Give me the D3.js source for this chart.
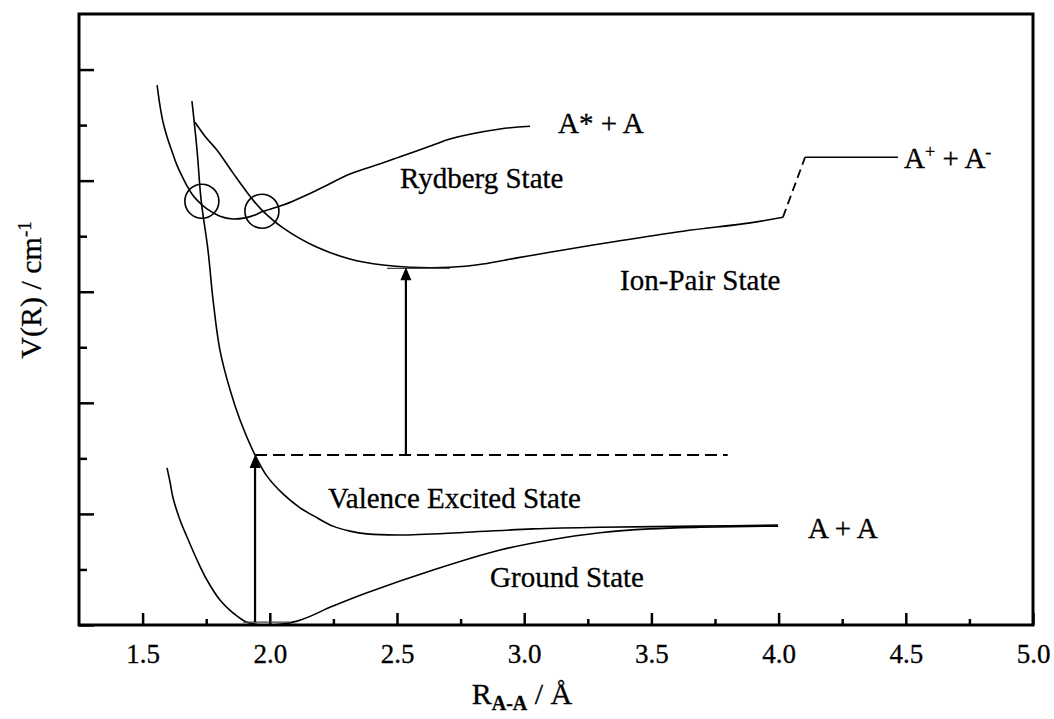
<!DOCTYPE html>
<html>
<head>
<meta charset="utf-8">
<script src="https://cdn.jsdelivr.net/npm/d3@7"></script>
<style>
  html, body { margin: 0; padding: 0; background: #fff; }
  svg { display: block; }
  text { font-family: "Liberation Serif", "Times New Roman", serif; fill: #000; stroke: #000; stroke-width: 0.3px; }
</style>
</head>
<body>
<svg id="chart" width="1054" height="719"></svg>
<script>
// Potential energy curves V(R) against internuclear distance R (Å); energy in units of 1000 cm-1.
const groundState = [
  [1.596, 2.83], [1.608, 2.57], [1.619, 2.30], [1.647, 1.89], [1.675, 1.58],
  [1.714, 1.17], [1.753, 0.81], [1.804, 0.45], [1.855, 0.22], [1.910, 0.05],
  [1.981, 0.00], [2.107, 0.07], [2.248, 0.34], [2.382, 0.58], [2.642, 0.99],
  [2.905, 1.35], [3.101, 1.53], [3.298, 1.66], [3.494, 1.73], [3.691, 1.76],
  [3.998, 1.78]
];
const valenceState = [
  [1.694, 9.43], [1.714, 8.55], [1.730, 7.65], [1.757, 6.75], [1.777, 5.85],
  [1.804, 4.95], [1.844, 4.23], [1.883, 3.69], [1.942, 3.06], [1.989, 2.68],
  [2.052, 2.36], [2.119, 2.11], [2.186, 1.93], [2.248, 1.78], [2.315, 1.69],
  [2.382, 1.64], [2.512, 1.62], [2.775, 1.67], [3.035, 1.73], [3.298, 1.76],
  [3.691, 1.78], [3.998, 1.80]
];
const rydbergState = [
  [1.557, 9.72], [1.568, 9.36], [1.580, 9.06], [1.596, 8.79], [1.616, 8.52],
  [1.635, 8.28], [1.655, 8.08], [1.675, 7.90], [1.694, 7.76], [1.714, 7.65],
  [1.753, 7.49], [1.804, 7.36], [1.855, 7.31], [1.903, 7.33], [1.942, 7.38],
  [1.969, 7.44], [2.052, 7.56], [2.186, 7.83], [2.315, 8.12], [2.445, 8.32],
  [2.512, 8.43], [2.642, 8.64], [2.708, 8.75], [2.905, 8.93], [3.023, 8.98]
];
const ionPairState = [
  [1.706, 9.05], [1.745, 8.80], [1.792, 8.55], [1.855, 8.14], [1.934, 7.65],
  [1.969, 7.47], [2.052, 7.15], [2.186, 6.80], [2.315, 6.59], [2.445, 6.48],
  [2.551, 6.44], [2.708, 6.44], [2.838, 6.50], [2.972, 6.61], [3.101, 6.71],
  [3.365, 6.91], [3.624, 7.09], [3.888, 7.24], [4.017, 7.34]
];
// ion-pair asymptote: dashed jump then the A+ + A- limit
const ionPairJump = [[4.017, 7.34], [4.104, 8.42]];
const ionPairLimit = [[4.104, 8.42], [4.469, 8.42]];

// lowest vibrational levels
const groundLevel = [[1.895, 0.05], [2.079, 0.05]];
const ionPairLevel = [[2.461, 6.42], [2.708, 6.42]];

// curve crossings marked with circles
const crossings = [[1.733, 7.63], [1.969, 7.45]];

// excitation scheme: ground -> valence (vertical), virtual level, then -> ion-pair
const dashedLevel = [[1.942, 3.06], [3.80, 3.06]];
const transitions = [
  { x: 1.942, from: 0.05, to: 3.06 },
  { x: 2.535, from: 3.06, to: 6.44 }
];

// axis ticks (no value labels on the energy axis)
const xMajorTicks = [1.5, 2.0, 2.5, 3.0, 3.5, 4.0, 4.5, 5.0];
const xMinorTicks = [1.75, 2.25, 2.75, 3.25, 3.75, 4.25, 4.75];
const yMajorTicks = [0, 2, 4, 6, 8, 10];
const yMinorTicks = [1, 3, 5, 7, 9];

// state labels, anchored at their data-space positions (start of baseline)
const stateLabels = [
  { parts: [["A* + A", 0]], x: 3.133, y: 8.86 },
  { parts: [["Rydberg State", 0]], x: 2.512, y: 7.87 },
  { parts: [["A", 0], ["+", 1], [" + A", 0], ["-", 1]], x: 4.493, y: 8.23 },
  { parts: [["Ion-Pair State", 0]], x: 3.377, y: 6.03 },
  { parts: [["Valence Excited State", 0]], x: 2.229, y: 2.10 },
  { parts: [["Ground State", 0]], x: 2.866, y: 0.68 },
  { parts: [["A + A", 0]], x: 4.116, y: 1.57 }
];

const svg = d3.select("#chart");
const plotLeft = 79, plotRight = 1033, plotTop = 14, plotBottom = 625;

const x = d3.scaleLinear().domain([1.25, 5.0]).range([plotLeft, plotRight]);
const y = d3.scaleLinear().domain([0, 11]).range([plotBottom, plotTop]);

// --- axes: ticks point inwards ---
const xMajor = svg.append("g")
  .attr("transform", `translate(0,${plotBottom})`)
  .call(d3.axisBottom(x).tickValues(xMajorTicks).tickSize(-12).tickPadding(19)
    .tickFormat(d3.format(".1f")));
const xMinor = svg.append("g")
  .attr("transform", `translate(0,${plotBottom})`)
  .call(d3.axisBottom(x).tickValues(xMinorTicks).tickSize(-6).tickFormat(""));
const yMajor = svg.append("g")
  .attr("transform", `translate(${plotLeft},0)`)
  .call(d3.axisLeft(y).tickValues(yMajorTicks).tickSize(-15).tickFormat(""));
const yMinor = svg.append("g")
  .attr("transform", `translate(${plotLeft},0)`)
  .call(d3.axisLeft(y).tickValues(yMinorTicks).tickSize(-8).tickFormat(""));

[xMajor, xMinor, yMajor, yMinor].forEach(g => {
  g.select(".domain").remove();
  g.selectAll(".tick line").attr("stroke", "#000").attr("stroke-width", 2.5);
});
xMajor.selectAll(".tick text")
  .attr("font-size", 27)
  .attr("font-family", "Liberation Serif, Times New Roman, serif")
  .attr("fill", "#000");

// frame
svg.append("rect")
  .attr("x", plotLeft).attr("y", plotTop)
  .attr("width", plotRight - plotLeft).attr("height", plotBottom - plotTop)
  .attr("fill", "none").attr("stroke", "#000").attr("stroke-width", 3);

// --- curves ---
const smooth = d3.line().x(d => x(d[0])).y(d => y(d[1])).curve(d3.curveCatmullRom.alpha(0.5));
const straight = d3.line().x(d => x(d[0])).y(d => y(d[1]));

const plot = svg.append("g").attr("fill", "none").attr("stroke", "#000");
[groundState, valenceState, rydbergState, ionPairState].forEach(c => {
  plot.append("path").attr("d", smooth(c)).attr("stroke-width", 1.6);
});
plot.append("path").attr("d", straight(ionPairJump))
  .attr("stroke-width", 1.8).attr("stroke-dasharray", "9,5");
plot.append("path").attr("d", straight(ionPairLimit)).attr("stroke-width", 1.6);

[groundLevel, ionPairLevel].forEach(l => {
  plot.append("path").attr("d", straight(l)).attr("stroke-width", 1.2).attr("stroke", "#444");
});

plot.selectAll("circle.cross").data(crossings).join("circle")
  .attr("class", "cross")
  .attr("cx", d => x(d[0])).attr("cy", d => y(d[1])).attr("r", 17)
  .attr("stroke-width", 1.6);

plot.append("path").attr("d", straight(dashedLevel))
  .attr("stroke-width", 2).attr("stroke-dasharray", "12,6");

// vertical transition arrows
transitions.forEach(t => {
  const xs = x(t.x), y0 = y(t.from), y1 = y(t.to);
  plot.append("line")
    .attr("x1", xs).attr("x2", xs).attr("y1", y0).attr("y2", y1 + 10)
    .attr("stroke-width", 2.2);
  svg.append("path")
    .attr("d", `M${xs},${y1} L${xs - 5.5},${y1 + 13} L${xs + 5.5},${y1 + 13} Z`)
    .attr("fill", "#000");
});

// --- state labels ---
stateLabels.forEach(l => {
  const t = svg.append("text")
    .attr("x", x(l.x)).attr("y", y(l.y))
    .attr("font-size", 29);
  l.parts.forEach(([s, sup]) => {
    const ts = t.append("tspan").text(s);
    if (sup) ts.attr("font-size", 18).attr("baseline-shift", "super");
  });
});

// --- axis titles ---
const xTitle = svg.append("text")
  .attr("x", 522).attr("y", 704)
  .attr("text-anchor", "middle")
  .attr("font-size", 30);
xTitle.append("tspan").text("R");
xTitle.append("tspan").text("A-A").attr("font-size", 20).attr("font-weight", "bold")
  .attr("baseline-shift", "-30%");
xTitle.append("tspan").text(" / Å");

const yTitle = svg.append("text")
  .attr("transform", "translate(41,290) rotate(-90)")
  .attr("text-anchor", "middle")
  .attr("font-size", 30);
yTitle.append("tspan").text("V(R) / cm");
yTitle.append("tspan").text("-1").attr("font-size", 19).attr("baseline-shift", "super");
</script>
</body>
</html>
